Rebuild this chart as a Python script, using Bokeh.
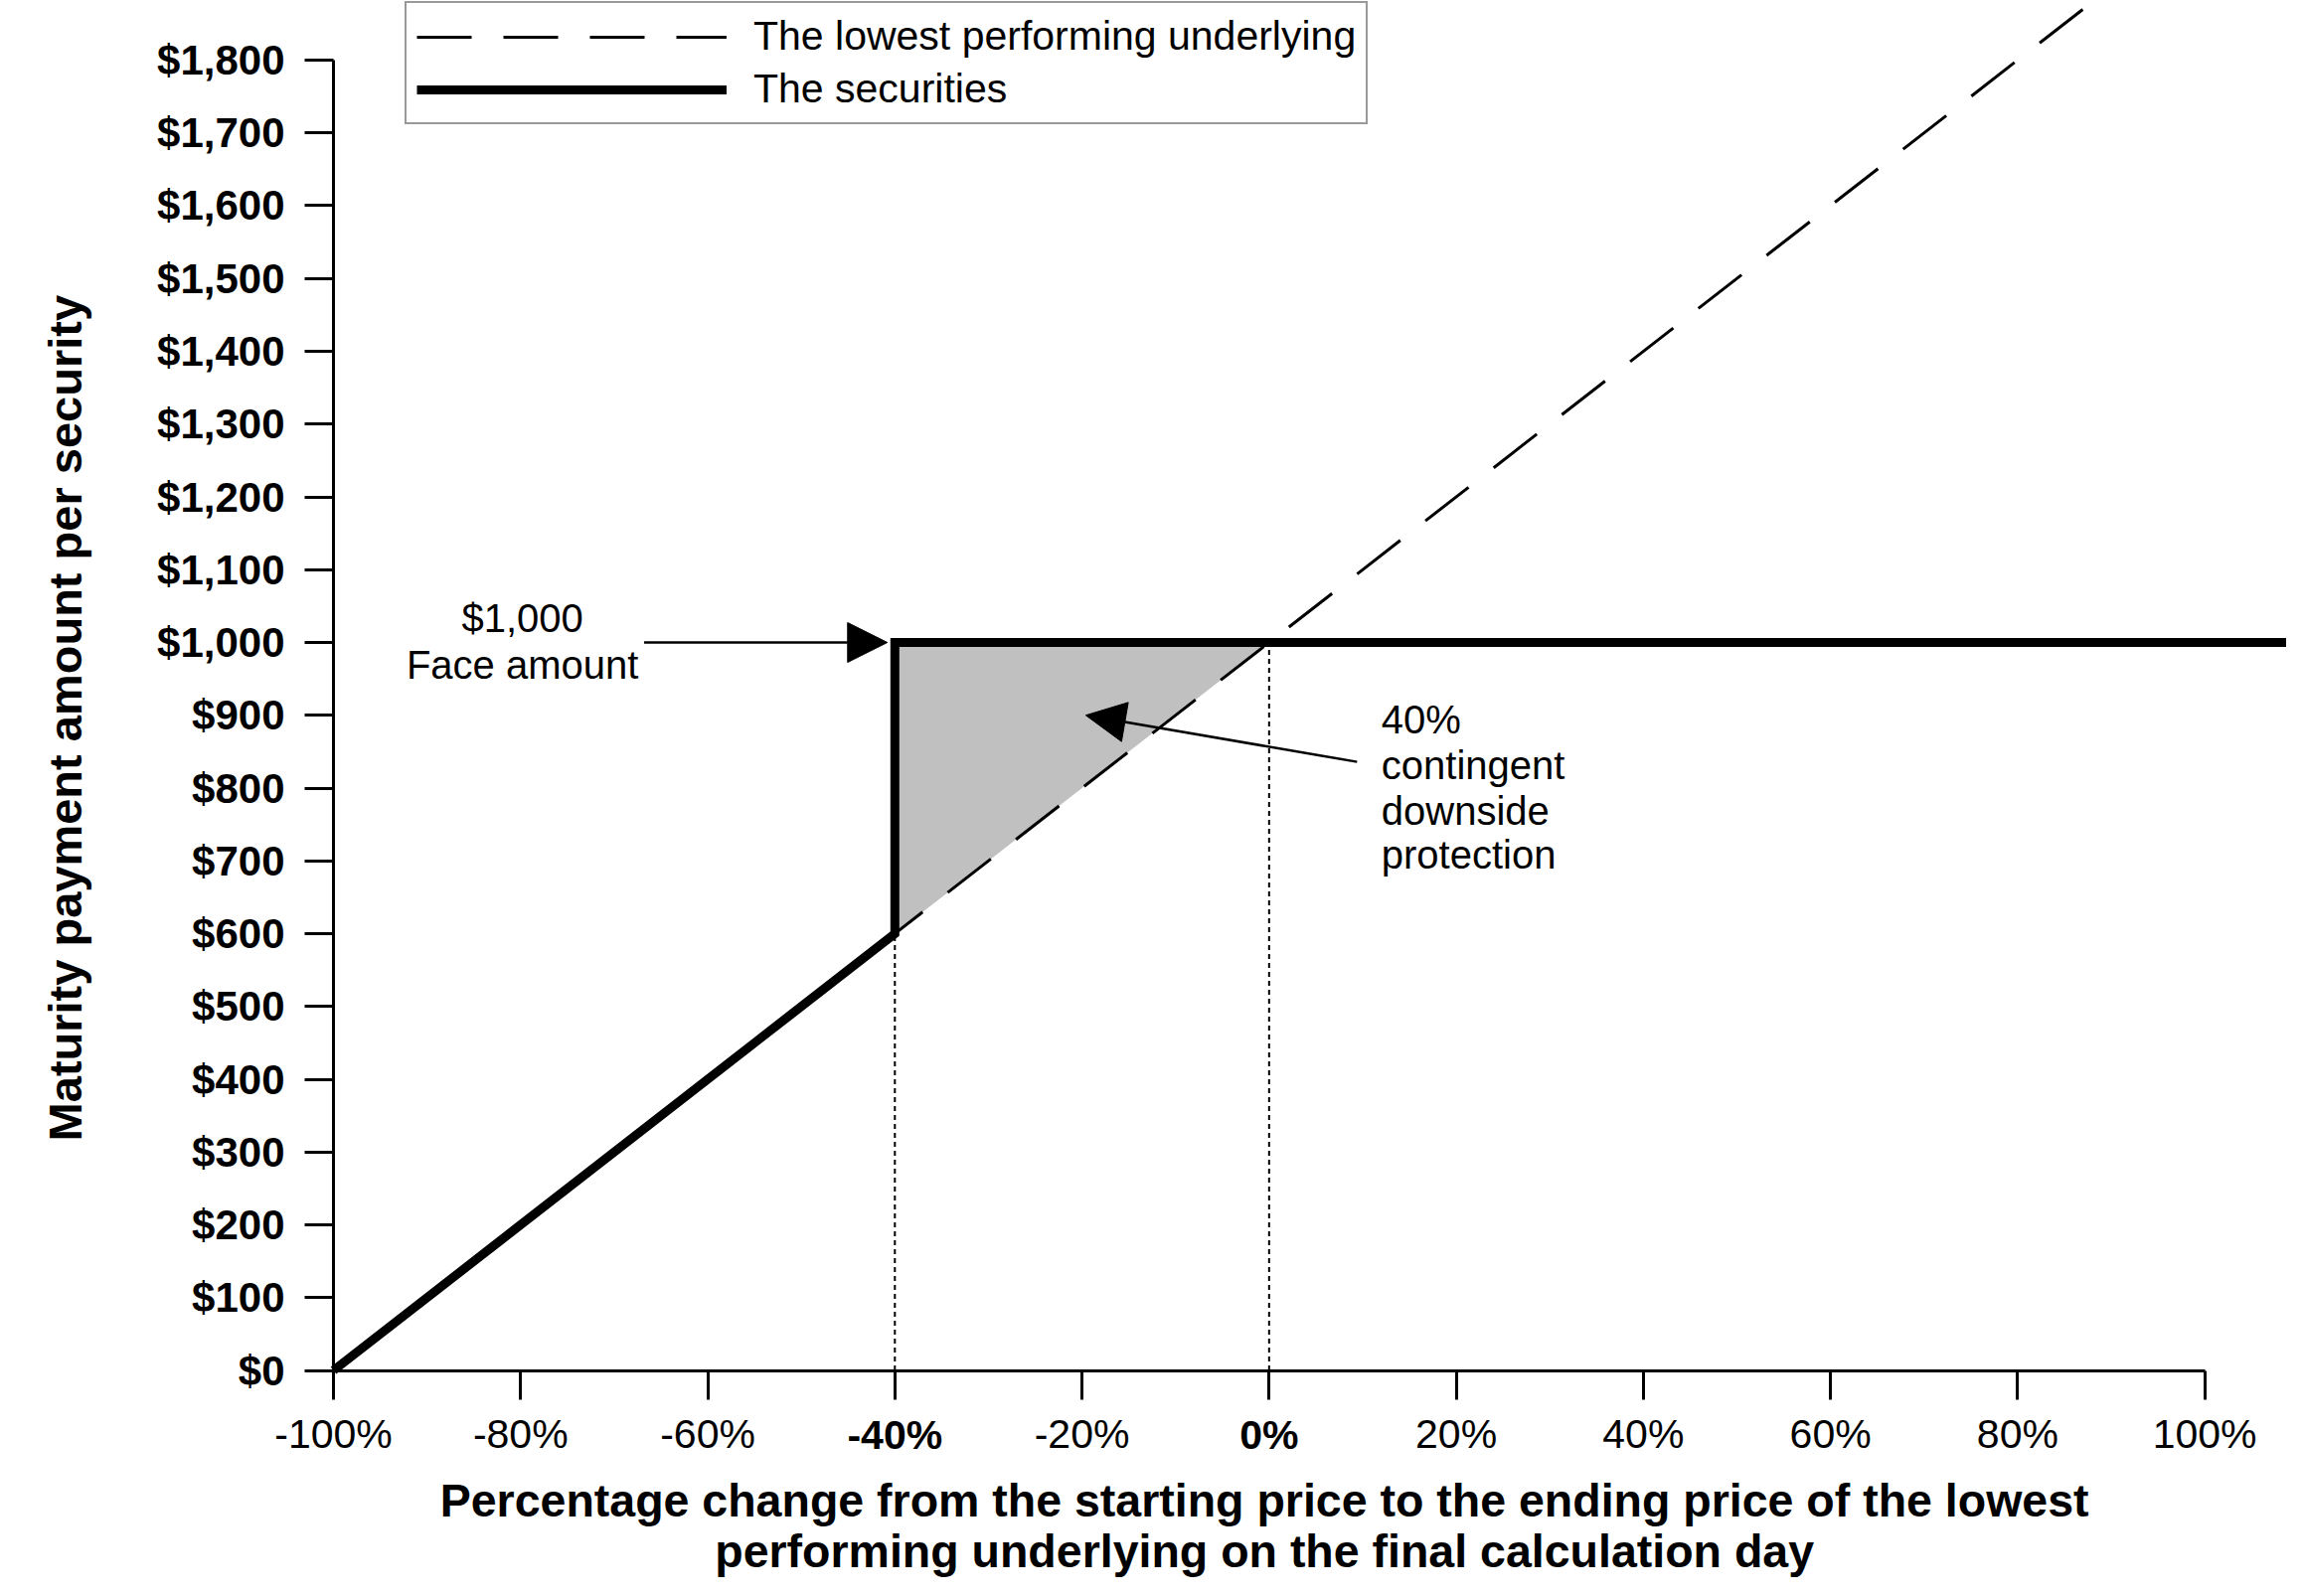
import math
from bokeh.plotting import figure
from bokeh.models import (Range1d, FixedTicker, Legend, LegendItem, Arrow,
                          NormalHead, Label)
from bokeh.embed import file_html
from bokeh.resources import INLINE

# ---------------- data ----------------
pct_ticks = [-100, -80, -60, -40, -20, 0, 20, 40, 60, 80, 100]
pct_labels = ["-100%", "-80%", "-60%", "-40%", "-20%", "0%", "20%", "40%",
              "60%", "80%", "100%"]
bold_pct = [-40, 0]

usd_ticks = [0, 100, 200, 300, 400, 500, 600, 700, 800, 900, 1000, 1100,
             1200, 1300, 1400, 1500, 1600, 1700, 1800]
usd_labels = ["$0", "$100", "$200", "$300", "$400", "$500", "$600", "$700",
              "$800", "$900", "$1,000", "$1,100", "$1,200", "$1,300",
              "$1,400", "$1,500", "$1,600", "$1,700", "$1,800"]

underlying_x = [-100, 100]
underlying_y = [0, 2000]

securities_x = [-100, -40, -40, 0, 110]
securities_y = [0, 600, 1000, 1000, 1000]

protection_x = [-40, -40, 0]
protection_y = [600, 1000, 1000]

guide_x = [-40, 0]
guide_top = [600, 1000]

x_title_lines = ["Percentage change from the starting price to the ending price of the lowest",
                 "performing underlying on the final calculation day"]
y_title = "Maturity payment amount per security"

FONT = "Liberation Sans"

# The frame fills the whole canvas; axes sit at fixed data locations.
p = figure(width=2300, height=1590,
           x_range=Range1d(-135.59, 108.75), y_range=Range1d(-288.7, 1881.9),
           output_backend="svg", toolbar_location=None,
           min_border_left=0, min_border_right=0,
           min_border_top=0, min_border_bottom=0)
p.outline_line_color = None
p.xgrid.visible = False
p.ygrid.visible = False
p.background_fill_color = "white"
p.border_fill_color = "white"

# ---------------- axes ----------------
xa = p.xaxis[0]
xa.fixed_location = 0
xa.ticker = FixedTicker(ticks=pct_ticks)
xa.bounds = (-100, 100)
xa.major_label_overrides = {t: ("" if t in bold_pct else l)
                            for t, l in zip(pct_ticks, pct_labels)}
xa.axis_line_width = 3
xa.major_tick_line_width = 3
xa.major_tick_out = 29
xa.major_tick_in = 0
xa.minor_tick_out = 0
xa.minor_tick_in = 0
xa.major_label_text_font = FONT
xa.major_label_text_font_size = "41px"
xa.major_label_text_color = "black"
xa.major_label_standoff = 12

ya = p.yaxis[0]
ya.fixed_location = -100
ya.ticker = FixedTicker(ticks=usd_ticks)
ya.bounds = (0, 1800)
ya.major_label_overrides = {t: l for t, l in zip(usd_ticks, usd_labels)}
ya.axis_line_width = 3
ya.major_tick_line_width = 3
ya.major_tick_out = 29
ya.major_tick_in = 0
ya.minor_tick_out = 0
ya.minor_tick_in = 0
ya.major_label_text_font = FONT
ya.major_label_text_font_style = "bold"
ya.major_label_text_font_size = "42px"
ya.major_label_text_color = "black"
ya.major_label_standoff = 20

# ---------------- glyphs ----------------
p.patch(protection_x, protection_y, fill_color="#C0C0C0", line_color=None)
r_und = p.line(underlying_x, underlying_y, line_color="black", line_width=3,
               line_dash="55 32")
p.segment(x0=guide_x, y0=[0] * len(guide_x), x1=guide_x, y1=guide_top,
          line_color="black", line_width=2, line_dash="5 4")
r_sec = p.line(securities_x, securities_y, line_color="black", line_width=9,
               line_join="miter")

# bold tick labels (-40%, 0%)
for t in bold_pct:
    p.add_layout(Label(x=t, y=-89, text=pct_labels[pct_ticks.index(t)],
                       text_align="center", text_baseline="middle",
                       text_font=FONT, text_font_style="bold",
                       text_font_size="41px", text_color="black"))

# axis titles
for line, yy in zip(x_title_lines, [-179, -249]):
    p.add_layout(Label(x=-0.5, y=yy, text=line,
                       text_align="center", text_baseline="middle",
                       text_font=FONT, text_font_style="bold",
                       text_font_size="46.5px", text_color="black"))
p.add_layout(Label(x=-128.7, y=896, text=y_title,
                   angle=math.pi / 2, text_align="center",
                   text_baseline="middle", text_font=FONT,
                   text_font_style="bold", text_font_size="47px",
                   text_color="black"))

# ---------------- legend ----------------
legend = Legend(items=[
    LegendItem(label="The lowest performing underlying", renderers=[r_und]),
    LegendItem(label="The securities", renderers=[r_sec])],
    location=(407, 1465), orientation="vertical",
    label_text_font=FONT, label_text_font_size="41px", label_text_color="black",
    glyph_width=312, glyph_height=44, label_height=44, label_standoff=27,
    spacing=6, padding=10, margin=0,
    border_line_color="#333333", border_line_width=2,
    background_fill_color="white", background_fill_alpha=1.0)
p.add_layout(legend)

# ---------------- annotations ----------------
p.add_layout(Arrow(end=NormalHead(size=40, fill_color="black", line_color="black"),
                   x_start=-66.8, y_start=1000, x_end=-40.8, y_end=1000,
                   line_color="black", line_width=2.5))
p.add_layout(Arrow(end=NormalHead(size=40, fill_color="black", line_color="black"),
                   x_start=9.4, y_start=836, x_end=-19.6, y_end=900,
                   line_color="black", line_width=2.5))

for txt, yy in [("$1,000", 1034), ("Face amount", 969)]:
    p.add_layout(Label(x=-79.8, y=yy, text=txt, text_align="center",
                       text_baseline="middle", text_font=FONT,
                       text_font_size="40px", text_color="black"))

for txt, yy in [("40%", 894.5), ("contingent", 831.8), ("downside", 769.1),
                ("protection", 708.5)]:
    p.add_layout(Label(x=12.0, y=yy, text=txt, text_align="left",
                       text_baseline="middle", text_font=FONT,
                       text_font_size="40px", text_color="black"))

open("out.html", "w").write(file_html(p, INLINE))
